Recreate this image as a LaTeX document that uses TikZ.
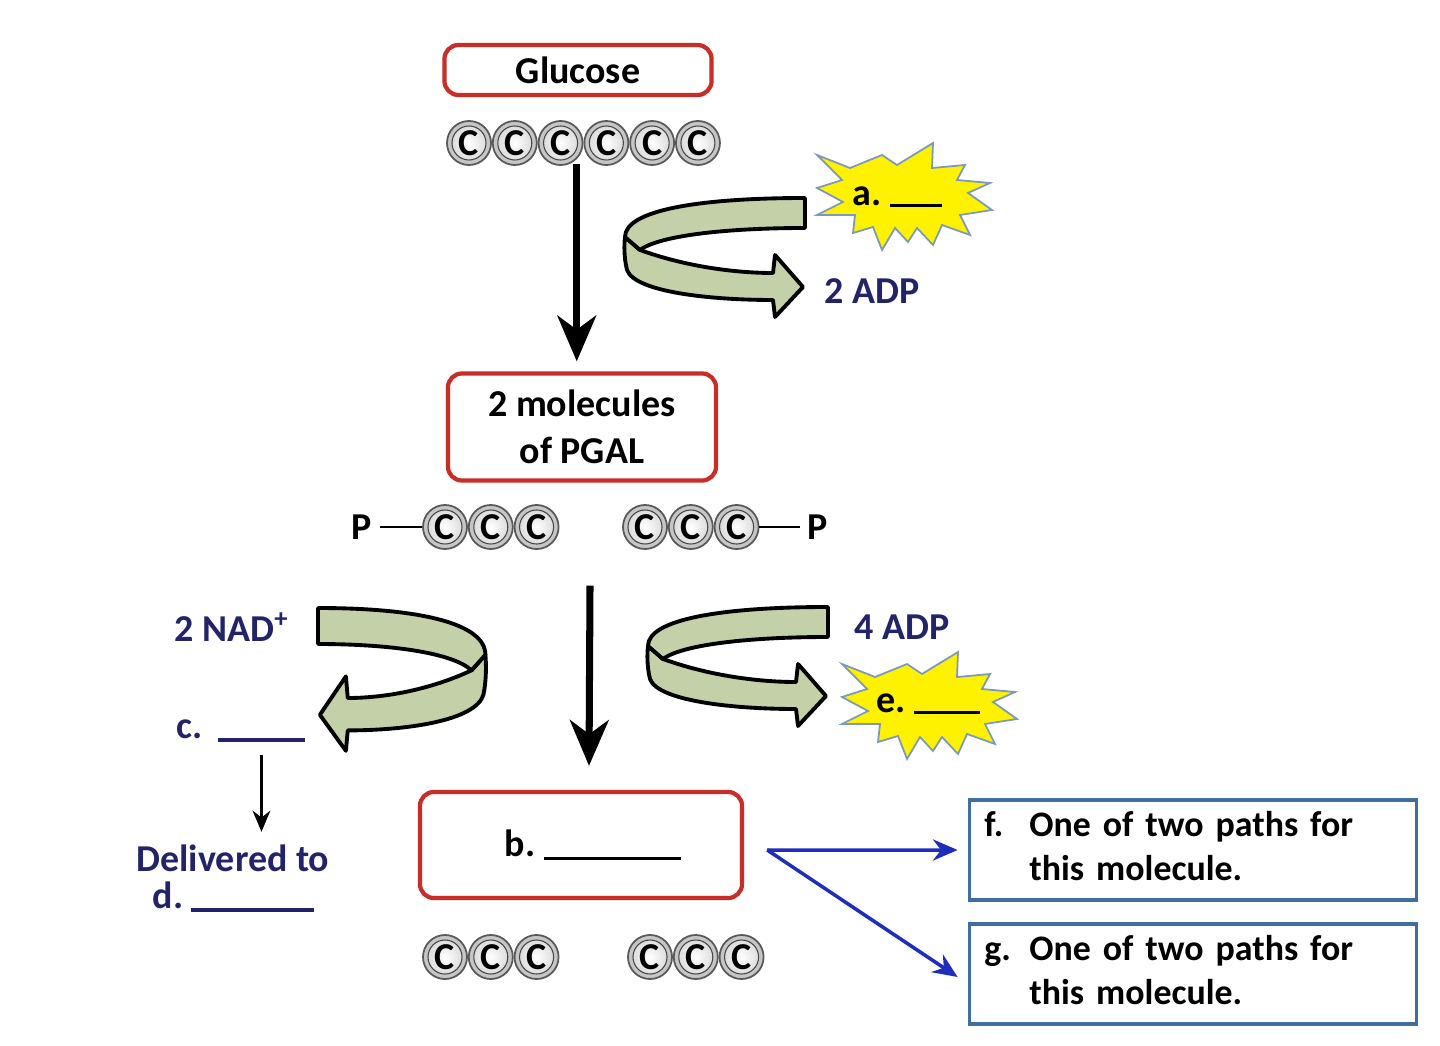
\documentclass[tikz,border=0pt]{standalone}
\usepackage{fontspec}
\setmainfont{Carlito}
\usetikzlibrary{arrows.meta,positioning}

\definecolor{boxred}{RGB}{200,45,40}
\definecolor{boxblue}{RGB}{65,110,160}
\definecolor{navy}{RGB}{35,35,105}
\definecolor{ribbongreen}{RGB}{196,208,168}
\definecolor{arrowblue}{RGB}{30,45,190}

\tikzset{
  molbox/.style={draw=boxred, line width=1.2pt, rounded corners=4pt, inner sep=0pt, align=center},
  pathbox/.style={draw=boxblue, line width=1pt, minimum width=4.47cm, minimum height=1cm,
    text width=4.17cm, align=left, inner xsep=0.15cm, inner ysep=0pt,
    font=\fontsize{10.2}{12.4}\selectfont\bfseries},
  carbon/.style={circle, draw=gray!70!black, line width=0.5pt, fill=gray!45,
    minimum size=0.44cm, inner sep=0pt,
    path picture={
      \shade[inner color=white, outer color=gray!35] (path picture bounding box.center) circle (0.17cm);
      \draw[gray!55!black, line width=0.3pt] (path picture bounding box.center) circle (0.17cm);}},
  lbl/.style={text=navy, inner sep=0pt},
  bigarrow/.style={line width=2pt, -{Stealth[length=13pt,width=11pt,inset=4pt]}},
  thinarrow/.style={line width=0.9pt, -{Stealth[length=6pt,width=5pt]}},
  bluearrow/.style={draw=arrowblue, line width=1pt, -{Stealth[length=7pt,width=6pt]}},
  ribbon/.style={fill=ribbongreen, draw=black, line width=1.1pt, line join=round},
  burstfill/.style={fill=yellow, draw=boxblue!70, line width=0.5pt},
  % u-turn ribbon arrow, tail top at the origin
  uturn/.pic={
    \filldraw[ribbon] (-180,39) -- (-165,52) .. controls (-115,70) and (-65,75) .. (-32,75)
      -- (-30,57) -- (-2,89) -- (-30,119) -- (-32,102)
      .. controls (-95,102) and (-170,94) .. (-178,72)
      .. controls (-181,60) and (-181,47) .. (-180,39) -- cycle;
    \filldraw[ribbon] (0,0) -- (0,30) .. controls (-75,30) and (-145,37) .. (-165,52)
      -- (-180,39) .. controls (-180,12) and (-105,0) .. (0,0) -- cycle;
  },
  burst/.pic={
    \filldraw[burstfill] (-83,-42) -- (-50,-29) -- (-18,-42) -- (-3,-32) -- (33,-54)
      -- (32,-29) -- (65,-32) -- (57,-17) -- (90,-14) -- (68,-4) -- (92,13) -- (60,18)
      -- (70,38) -- (42,28) -- (33,48) -- (17,31) -- (8,45) -- (-5,31) -- (-18,53)
      -- (-27,30) -- (-47,36) -- (-45,18) -- (-83,18) -- (-57,5) -- (-83,-9) -- (-58,-17) -- cycle;
  }
}

\begin{document}
\begin{tikzpicture}[x=0.01cm, y=-0.01cm, font=\fontsize{10.8}{13}\selectfont\bfseries]
\fill[white] (0,0) rectangle (1440,1046);
\useasboundingbox (0,0) rectangle (1440,1046);

% glucose
\node[molbox, minimum width=2.67cm, minimum height=0.5cm] (glucose) at (578,70) {Glucose};
\node[carbon] (g1) at (469,143) {C};
\foreach \i [evaluate=\i as \p using int(\i-1)] in {2,...,6}
  \node[carbon, right=0pt of g\p] (g\i) {C};

% PGAL
\node[molbox, minimum width=2.68cm, minimum height=1.07cm] (pgal) at (582,427) {2 molecules\\[0.5pt]of PGAL};
\draw[bigarrow, shorten >=0.1cm] ([yshift=-0.05cm]g3.south east) -- (g3.south east |- pgal.north);

\node[carbon] (l1) at (445,527) {C};
\node[carbon, right=0pt of l1] (l2) {C};
\node[carbon, right=0pt of l2] (l3) {C};
\node[inner sep=2pt] (pl) at (362,527) {P};
\draw[line width=0.8pt] (pl) -- (l1);
\node[carbon] (r1) at (645,527) {C};
\node[carbon, right=0pt of r1] (r2) {C};
\node[carbon, right=0pt of r2] (r3) {C};
\node[inner sep=2pt] (pr) at (818,527) {P};
\draw[line width=0.8pt] (r3) -- (pr);

% energy investment
\pic at (805,198) {uturn};
\pic at (900,197) {burst};
\node[inner sep=0pt] (enzA) at (897,197) {a.\ \rule[-0.02cm]{0.52cm}{0.9pt}};
\node[lbl] (adpA) at (872,291) {2 ADP};

% b
\node[molbox, minimum width=3.22cm, minimum height=1.06cm] (bbox) at (581,845) {\hspace{0.24cm}b.\ \rule[-0.03cm]{1.37cm}{0.9pt}};
\draw[bigarrow] ([xshift=0.08cm,yshift=-1.03cm]pgal.south) -- ([xshift=0.08cm,yshift=0.24cm]bbox.north);

\node[carbon] (b1) at (445,957) {C};
\node[carbon, right=0pt of b1] (b2) {C};
\node[carbon, right=0pt of b2] (b3) {C};
\node[carbon] (b4) at (650,957) {C};
\node[carbon, right=0pt of b4] (b5) {C};
\node[carbon, right=0pt of b5] (b6) {C};

% NAD side
\pic[xscale=-0.93, yscale=1.2] at (318,608) {uturn};
\node[lbl] (nad) at (232,627) {2 NAD\textsuperscript{+}};
\node[lbl, anchor=base west] (clabel) at (176,738) {c.\hspace{0.15cm}\rule[-0.04cm]{0.87cm}{1pt}};
\node[lbl] (deliv) at (233,858) {Delivered to};
\node[lbl, anchor=base west] (dlabel) at (152,908) {d.\hspace{0.08cm}\rule[-0.04cm]{1.23cm}{1pt}};
\draw[thinarrow, shorten >=0.12cm] ([xshift=-0.44cm,yshift=-0.12cm]clabel.south east) coordinate (cstart)
  -- (cstart |- deliv.north);

% energy payoff
\pic at (828,607) {uturn};
\pic at (925,706) {burst};
\node[inner sep=0pt] (enzE) at (928,704) {e.\ \rule[-0.02cm]{0.66cm}{0.9pt}};
\node[lbl] (adpB) at (902,627) {4 ADP};

% two paths
\node[pathbox] (fbox) at (1193,850) {\begin{tabular}{@{}p{0.45cm}@{}l@{}}f. & One of two paths for\\ & this molecule.\end{tabular}};
\node[pathbox] (gbox) at (1193,974) {\begin{tabular}{@{}p{0.45cm}@{}l@{}}g. & One of two paths for\\ & this molecule.\end{tabular}};
\coordinate (fork) at ([xshift=0.23cm,yshift=-0.05cm]bbox.east);
\draw[bluearrow] (fork) -- ([xshift=-0.1cm]fbox.west);
\draw[bluearrow] (fork) -- ([xshift=-0.1cm,yshift=-0.03cm]gbox.west);
\end{tikzpicture}
\end{document}
